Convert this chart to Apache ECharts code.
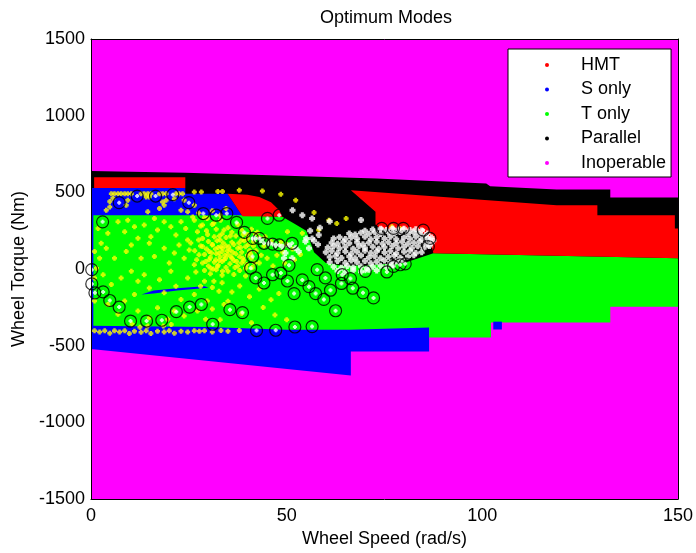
<!DOCTYPE html>
<html><head><meta charset="utf-8">
<script src="https://cdn.jsdelivr.net/npm/echarts@6/dist/echarts.min.js"></script>
<style>html,body{margin:0;padding:0;background:#fff}#c{width:696px;height:553px}</style>
</head><body><div id="c"></div><script>
// ---- axis ticks ----
const xTicks = [0, 50, 100, 150];
const yTicks = [-1500, -1000, -500, 0, 500, 1000, 1500];

// ---- mode regions (vertices in rad/s, Nm) ----
const inoperablePolys = [[[0,-1500],[150,-1500],[150,1500],[0,1500]]];
const parallelPolys = [[[0,640],[24,628],[48,610],[73,590],[101,557],[102,540],[119,519],[132.7,519],[132.7,466],[150,466],[150,0],[0,0]]];
const sOnlyBasePolys = [
  [[0,528],[24.1,528],[24.1,491],[34.9,491],[38.7,345],[0,345]],
  [[0,-300],[86.4,-300],[86.4,-537],[66.4,-537],[66.4,-694],[0,-522]]
];
const tOnlyPolys = [[[0,351],[38.7,351],[48.9,341],[52,295],[55,250],[57,110],[60,40],[65,20],[70,25],[80,40],[87.5,103],[150,71],[150,-246],[132.7,-246],[132.7,-349],[102.2,-349],[102.2,-446],[86.4,-446],[86.4,-381],[66,-395],[50,-395],[30,-378],[0,-370]]];
const hmtPolys = [
  [[0.8,599],[24.1,599],[24.1,528],[0.8,528]],
  [[34.9,491],[40,485],[43,470],[46,435],[48.1,383],[48.9,341],[38.7,345]],
  [[66.4,513],[119,416],[129.4,416],[129.4,351],[149.2,351],[149.2,265],[150,265],[150,71],[87.5,103],[86.5,200],[84,250],[74,262],[72.7,290],[72.7,373]]
];
const sOnlyExtraPolys = [
  [[12.9,-166],[16,-140],[22,-125],[29,-112],[30,-122],[22,-140],[16,-160]],
  [[102.8,-343],[105,-343],[105,-394],[102.8,-394]],
  [[0,528],[0.6,528],[0.6,-522],[0,-522]]
];

// ---- operating points ----
const yellowPts = [
[5.2,491],[6.0,491],[6.9,491],[7.7,491],[8.6,491],[9.4,491],[10.3,491],[12.8,491],[13.6,491],[14.5,491],[15.3,491],[17.5,491],[18.3,491],[19.2,491],[21.7,491],[22.5,491],[23.4,491],
[4.8,440],[5.6,461],[14.1,470],[14.9,470],[18.3,438],[19.2,448],[21.3,459],[23.8,448],[9.4,448],
[3.9,384],[4.8,405],[9.0,416],[14.5,373],[18.7,416],[17.5,394],[23.0,384],[24.7,373],[26.4,416],
[26.4,502],[28.2,502],[32.4,506],[33.6,506],[37.9,513],[43.8,509],[48.5,487],[52.3,448],[57.0,369],[60.8,319],[62.8,297],[65.2,330],[50.2,244],[58.2,254],[54.0,233],[76.9,276],[79.0,265],
[26,340],[27.5,365],[29,335],[31,380],[33,350],[34.5,395],
[1.8,265],[2.6,168],[2.2,71],[0.9,114],[1.4,6],[4.3,233],[6.9,308],[8.6,244],[9.4,319],[11.1,276],[12.0,201],[13.6,287],[15.3,211],[16.2,330],[17.0,254],[18.7,308],[20.4,276],[21.7,222],[23.0,308],[24.2,265],[24.7,190],[26.4,319],[27.2,244],[28.5,287],[29.7,330],[31.4,298],[33.1,319],[34.0,254],
[3.9,136],[6.0,71],[9.0,114],[10.3,157],[12.8,71],[14.9,168],[16.2,82],[18.7,136],[20.0,39],[21.3,104],[22.5,157],[23.8,71],[25.1,125],[26.4,28],[27.6,93],[28.5,147],[29.3,50],[30.2,114],[31.0,157],[31.9,61],[32.7,104],[33.6,136],[34.4,71],[30.6,6],[32.3,17],[33.6,-15],
[0.9,-58],[3.1,-37],[5.2,-101],[7.7,-58],[10.3,-15],[12.0,-80],[11.1,-166],[13.6,-37],[14.9,-123],[17.5,-69],[18.7,-155],[20.4,-15],[21.7,-112],[23.0,-198],[24.7,-58],[26.4,-166],[28.0,-112],[29.7,-209],[31.4,-80],[32.7,-144],[34.0,-231],[4.3,-231],[6.9,-295],[8.6,-209],[12.0,-274],[14.9,-317],[17.0,-252],[19.6,-328],[21.3,-274],[23.8,-306],[27.2,-274],[29.3,-328],[0.9,-209],
[0.9,-403],[2.2,-410],[3.5,-403],[4.8,-418],[6.0,-403],[7.3,-410],[8.6,-403],[9.8,-420],[11.1,-405],[12.8,-412],[14.1,-403],[15.3,-420],[17.0,-405],[18.7,-410],[20.0,-403],[21.3,-418],[23.0,-405],[24.7,-410],[26.4,-403],[27.7,-405],[29.0,-403],[31.0,-410],[33.2,-400],[35.0,-405],[37.9,-400],[10.5,-360],[12.5,-380],[14.5,-372],[18.5,-372],[20.5,-362],
[28,280],[29.5,250],[31,290],[32,260],[33.5,230],[35,270],[36,240],[37.5,290],[38.5,255],[40,225],[41,260],[42.5,240],
[28.5,200],[30,180],[31.5,210],[33,190],[34.5,205],[36,175],[37,215],[38.5,190],[40,200],[41.5,180],[43,205],
[28,150],[29.5,130],[31,160],[32.5,140],[33.5,115],[34.5,150],[35.5,125],[36.5,160],[37.5,135],[38.5,110],[39.5,145],[40.5,120],[41.5,150],
[29,95],[30.5,75],[32,100],[33,80],[34,60],[35,95],[36,70],[37,100],[38,80],[39,55],[40,90],[41,70],
[28.5,40],[30,20],[31.5,45],[32.5,25],[33.5,50],[34.5,10],[35.5,35],[36.5,55],[37.5,20],[38.5,40],[39.5,5],
[29,-10],[30.5,-30],[32,-5],[33.5,-40],[35,-15],[36.5,-35],[38,-10],[39.5,-45],
[29,-80],[31,-120],[33.5,-90],[36,-150],[38,-110],[40.5,-180],[43,-130],[46,-200],[48,-160],[35,-210],[31,-260],[38.5,-290],[44,-250],[33,-330],[41,-350],[47,-300],[50,-330],
[42,230],[44.5,210],[46,180],[48.5,175],[50,160],[51.5,130],[49,110],[47.5,90],[45,70],[43,40],[46.5,20],[49.5,40],[52,60],[53.5,95],
[30.8,105],[31.8,130],[32.8,55],[33.8,170],[34.8,120],[35.8,80],[36.8,10],[37.8,170],[38.8,70],[39.8,30],[40.8,100],[41.8,40],
[30.2,60],[31.2,0],[32.2,185],[33.2,145],[34.2,90],[35.2,145],[36.2,110],[37.2,50],[38.2,140],[39.2,185],[40.2,160],[41.2,10],
[29.8,225],[32.8,215],[35.6,215],[38.9,225],[42.2,120],[43.5,90],[44.2,150],[27.5,190],[26.5,120],[27,60],[25.5,170],[26.8,-20]
];
const whitePts = [
[70,250],[72,258],[74,262],[75.5,255],[77,263],[78.5,258],[80,262],[81.5,255],[83,260],[84.5,252],[86,232],
[66,232],[67.5,225],[69,236],[71,230],[72.5,240],[74,228],[76,238],[77.5,232],[79,242],[81,228],[82.5,238],[84,230],[85.5,220],[87,205],
[62,200],[63.5,208],[65,196],[66.5,205],[68,198],[70,210],[71.5,195],[73,205],[75,200],[76.5,210],[78,195],[80,205],[81.5,198],[83,210],[84.5,195],[86,200],[87.5,185],
[61.5,172],[63,165],[64.5,178],[66,168],[68,175],[69.5,162],[71,172],[73,178],[74.5,165],[76,175],[78,168],[79.5,178],[81,165],[82.5,172],[84,180],[85.5,165],[87,170],
[60.5,140],[62,148],[63.5,135],[65,145],[67,132],[68.5,148],[70,138],[72,145],[73.5,132],[75,142],[77,150],[78.5,135],[80,145],[82,138],[83.5,148],[85,135],[86.5,150],
[60,110],[61.5,118],[63,105],[65,115],[66.5,100],[68,112],[70,120],[71.5,105],[73,115],[75,108],[76.5,118],[78,102],[80,112],[81.5,120],[83,105],[84.5,110],
[61,78],[62.5,85],[64,72],[66,82],[67.5,70],[69,88],[71,76],[72.5,84],[74,70],[76,80],[77.5,88],[79,74],[81,82],[82.5,90],
[61,45],[63,52],[65,40],[66.5,55],[68,45],[70,52],[71.5,38],[73,48],[75,55],[76.5,42],[78,50],[79.5,60],
[62,15],[64,8],[65.5,20],[67,10],[69,18],[70.5,5],[72,15],[74,22],[75.5,12],[77,25],
[63,-12],[65,-20],[67,-8],[69,-18],[71,-5],[73,-10],
[51.5,384],[54,350],[56.5,330],[61,310],[69,320],[58.5,270],[56,250],[55,200],[57,185],[58,160],
[41.7,200],[43.4,189],[45.5,168],[47.2,153],[48.9,146],[50.6,153],[52.3,136],[49.7,104],[51.4,71],[49.3,71],[53.1,114],[54.8,179],[56.5,200],[58.2,222],[55.7,136]
];
const circlePts = [
[2.97,308],[7.2,433],[11.8,476],[16.5,476],[20.9,485],[25.0,433],[28.7,362],[32.0,351],[34.7,362],[37.2,304],[39.2,239],[41.3,200],[43.0,200],[44.2,168],[46.4,162],[48.1,157],[51.4,168],
[0.2,-4],[0.2,-97],[1.0,-155],[3.1,-149],[4.8,-205],[7.2,-248],[10.1,-339],[14.2,-339],[18.1,-334],[21.8,-278],[25.2,-248],[28.2,-231],[31.1,-360],[35.5,-265],[38.7,-284],
[41.3,82],[40.8,6],[42.1,-58],[44.2,-91],[46.4,-37],[48.5,-26],[50.2,-78],[51.9,-160],[54.0,-71],[55.7,-115],[57.4,-160],[59.5,-198],[61.2,-138],[62.5,-272],[57.8,-4],[59.9,-58],[64.0,-94],[66.9,-125],[69.5,-155],[72.2,-188],
[42.3,-401],[47.2,-399],[52.1,-378],[56.5,-375],[50.6,24],[45.1,330],[48.1,351],[64.2,-37],[66.3,-62],[70.1,-15],[75.6,-19],[77.3,17],[79.0,28],[80.3,34],
[74.3,265],[77.3,265],[79.8,265],[84.9,254],[86.6,200],[86.2,147]
];

const FONT = 'Liberation Sans, Arial, Helvetica, sans-serif';
const chart = echarts.init(document.getElementById('c'), null, {renderer: 'canvas'});

function polySeries(name, color, polys) {
  return {
    type: 'custom', name: name, silent: true,
    itemStyle: {color: color},
    data: polys.map(p => p[0]),
    renderItem: function (params, api) {
      const pts = polys[params.dataIndex].map(p => api.coord(p));
      return {type: 'polygon', shape: {points: pts}, style: {fill: color, stroke: null}};
    }
  };
}

const DOT = 'path://M1,0H3V1H4V3H3V4H1V3H0V1H1Z';

chart.setOption({
  animation: false,
  grid: {left: 91, right: 15, top: 39, bottom: 50},
  graphic: [{type: 'text', x: 386, y: 18, style: {text: 'Optimum Modes', fill: '#000', font: '18px ' + FONT, textAlign: 'center', textVerticalAlign: 'middle'}}],
  xAxis: [{
    type: 'value', min: xTicks[0], max: xTicks[xTicks.length - 1], interval: 50, z: 10,
    axisLine: {show: true, onZero: false, lineStyle: {color: '#000', width: 1}},
    axisTick: {show: false}, splitLine: {show: false},
    axisLabel: {fontSize: 18, color: '#000', fontFamily: FONT, margin: 8, formatter: v => String(v)},
    name: 'Wheel Speed (rad/s)', nameLocation: 'middle', nameGap: 29,
    nameTextStyle: {fontSize: 18, color: '#000', fontFamily: FONT}
  }, {
    type: 'value', position: 'top', min: 0, max: 150, z: 10,
    axisLine: {show: true, onZero: false, lineStyle: {color: '#000', width: 1}},
    axisTick: {show: false}, axisLabel: {show: false}, splitLine: {show: false}
  }],
  yAxis: [{
    type: 'value', min: yTicks[0], max: yTicks[yTicks.length - 1], interval: 500, z: 10,
    axisLine: {show: true, onZero: false, lineStyle: {color: '#000', width: 1}},
    axisTick: {show: false}, splitLine: {show: false},
    axisLabel: {fontSize: 18, color: '#000', fontFamily: FONT, margin: 6, formatter: v => String(v)},
    name: 'Wheel Torque (Nm)', nameLocation: 'middle', nameGap: 62, nameRotate: 90,
    nameTextStyle: {fontSize: 18, color: '#000', fontFamily: FONT}
  }, {
    type: 'value', position: 'right', min: -1500, max: 1500, z: 10,
    axisLine: {show: true, onZero: false, lineStyle: {color: '#000', width: 1}},
    axisTick: {show: false}, axisLabel: {show: false}, splitLine: {show: false}
  }],
  legend: {
    orient: 'vertical', left: 508, top: 49, selectedMode: false,
    itemWidth: 4, itemHeight: 4, itemGap: 4.5,
    padding: [6, 5, 4, 37],
    backgroundColor: '#fff', borderColor: '#000', borderWidth: 1, borderRadius: 0,
    textStyle: {fontSize: 18, color: '#000', fontFamily: FONT, lineHeight: 20, padding: [0, 0, 0, 27]},
    data: [
      {name: 'HMT', icon: 'circle'},
      {name: 'S only', icon: 'circle'},
      {name: 'T only', icon: 'circle'},
      {name: 'Parallel', icon: 'circle'},
      {name: 'Inoperable', icon: 'circle'}
    ]
  },
  series: [
    polySeries('Inoperable', '#ff00ff', inoperablePolys),
    polySeries('Parallel', '#000000', parallelPolys),
    polySeries('S only', '#0000ff', sOnlyBasePolys),
    polySeries('T only', '#00ff00', tOnlyPolys),
    polySeries('HMT', '#ff0000', hmtPolys),
    polySeries('S only', '#0000ff', sOnlyExtraPolys),
    {type: 'scatter', name: 'pts-y', silent: true, symbol: DOT, symbolSize: 5,
      itemStyle: {color: '#ffff00'}, data: yellowPts},
    {type: 'scatter', name: 'pts-w', silent: true, symbol: DOT, symbolSize: 6,
      itemStyle: {color: '#ffffff'}, data: whitePts},
    {type: 'scatter', name: 'pts-c', silent: true, symbol: 'circle', symbolSize: 12,
      itemStyle: {color: 'rgba(0,0,0,0)', borderColor: '#000', borderWidth: 1.2}, data: circlePts},
    {type: 'scatter', name: 'pts-cc', silent: true, symbol: DOT, symbolSize: 4,
      itemStyle: {color: '#ffffff'}, data: circlePts}
  ]
});
</script></body></html>
